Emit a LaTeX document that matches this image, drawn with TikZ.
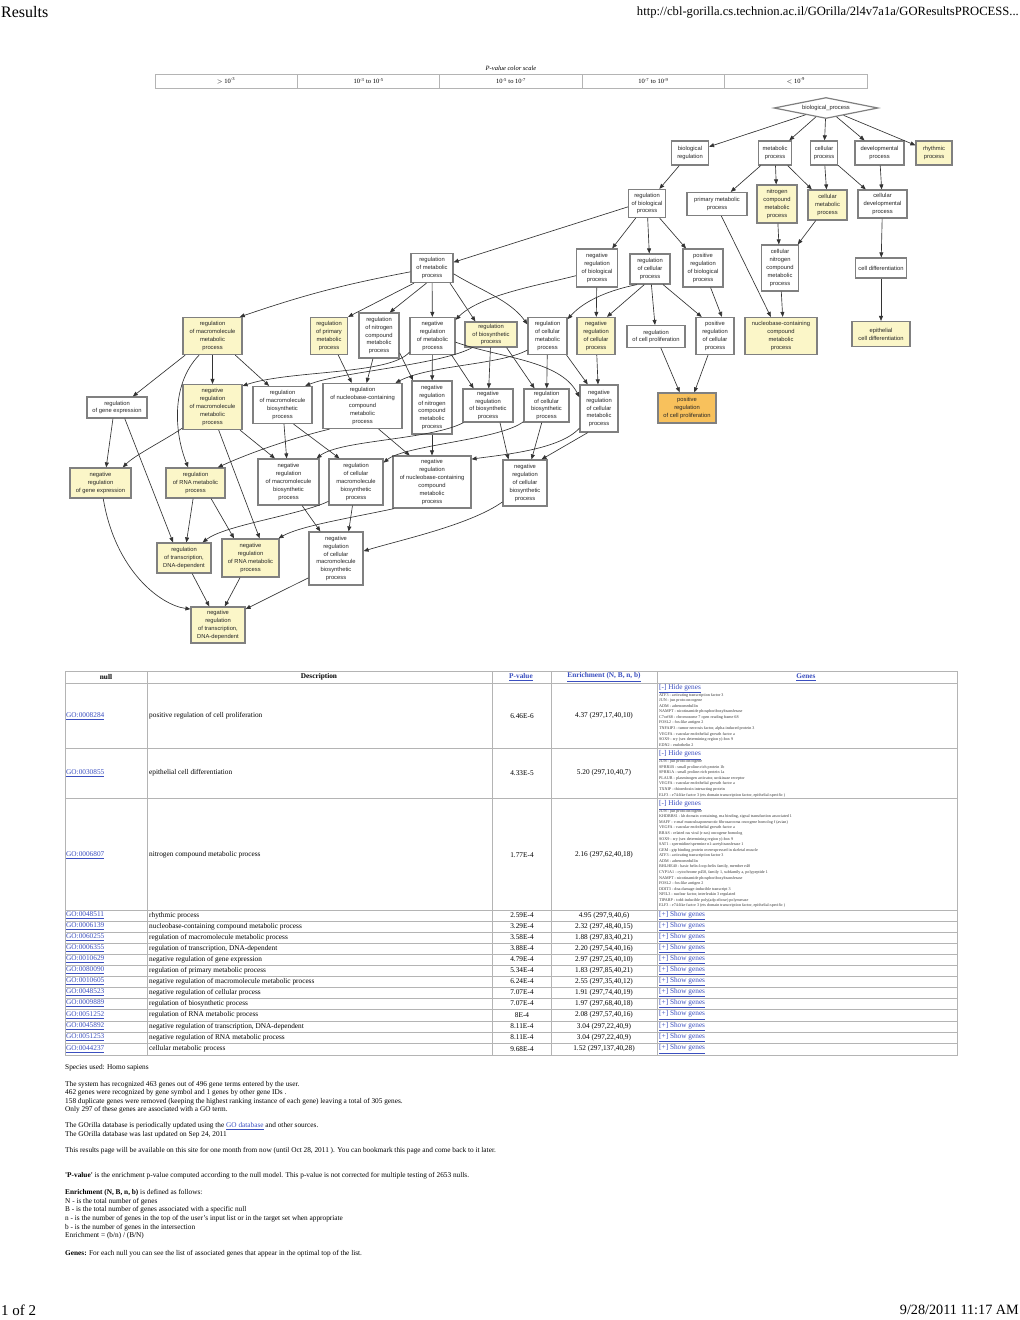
\documentclass[tikz,border=0pt]{standalone}
\usepackage{fontspec}
\setmainfont{Liberation Serif}
\newfontfamily\gosans{Liberation Sans}
\usetikzlibrary{shapes.geometric,arrows.meta}
\definecolor{ybox}{HTML}{FBF6C8}
\definecolor{obox}{HTML}{F8C15C}
\definecolor{lnk}{HTML}{3B4FC0}
\definecolor{bord}{HTML}{808080}
\definecolor{tline}{HTML}{B4B4B4}
\newcommand\lk[1]{\textcolor{lnk}{\underline{#1}}}
\newcommand\sgtxt{\fontsize{4.1}{5.58}\selectfont}
\newcommand\gorow[6]{%
 \node[tcell,anchor=west] (#1id) at (66,#2) {\lk{#3}};
 \node[tcell,anchor=west] (#1d) at (149,#2) {#4};
 \node[tcell] (#1p) at (522,#2) {#5};
 \node[tcell] (#1e) at (604,#2) {#6};
}
\begin{document}
\begin{tikzpicture}[x=1pt,y=-1pt,
 gobox/.style={draw=bord, line width=1.2pt, fill=white, font=\gosans\fontsize{5.8}{7.9}\selectfont, text=black!85, align=center, inner sep=0.5pt},
 sig/.style={gobox, fill=ybox},
 best/.style={gobox, fill=obox},
 wh/.style 2 args={minimum width=#1pt, minimum height=#2pt},
 edge/.style={draw=black!80, line width=0.65pt, -{Triangle[length=5pt,width=4pt]}},
 tcell/.style={font=\fontsize{7.3}{8.5}\selectfont, inner sep=0pt},
 hcell/.style={font=\bfseries\fontsize{7.3}{8.5}\selectfont, inner sep=0pt},
 glist/.style={font=\sgtxt, align=left, inner sep=0pt, anchor=north west, text=black!80},
 btxt/.style={font=\fontsize{7.3}{8.5}\selectfont, inner sep=0pt, anchor=base west},
 tl/.style={draw=tline, line width=0.8pt},
 sc/.style={font=\fontsize{6.5}{7.5}\selectfont, inner sep=0pt},
]
\useasboundingbox[fill=white] (0,0) rectangle (1020,1320);

% ---------- page header / footer ----------
\node[anchor=west, font=\fontsize{16}{18}\selectfont, inner sep=0pt] (title) at (1,12) {Results};
\node[anchor=east, font=\fontsize{12.6}{15}\selectfont, inner sep=0pt] (url) at (1019,12) {http://cbl-gorilla.cs.technion.ac.il/GOrilla/2l4v7a1a/GOResultsPROCESS...};
\node[anchor=west, font=\fontsize{15}{17}\selectfont, inner sep=0pt] (pg) at (1,1310) {1 of 2};
\node[anchor=east, font=\fontsize{14.2}{17}\selectfont, inner sep=0pt] (date) at (1019,1310) {9/28/2011 11:17 AM};

% ---------- p-value color scale ----------
\node[sc, font=\itshape\fontsize{6.5}{7.5}\selectfont] (sct) at (511,68) {P-value color scale};
\draw[tl] (155,74) rectangle (867,88);
\foreach \xx in {297.4,439.8,582.2,724.6} \draw[tl] (\xx,74) -- (\xx,88);
\node[sc] (s1) at (226,81) {$>$ 10\textsuperscript{-3}};
\node[sc] (s2) at (368.6,81) {10\textsuperscript{-3} to 10\textsuperscript{-5}};
\node[sc] (s3) at (511,81) {10\textsuperscript{-5} to 10\textsuperscript{-7}};
\node[sc] (s4) at (653.4,81) {10\textsuperscript{-7} to 10\textsuperscript{-9}};
\node[sc] (s5) at (795.8,81) {$<$ 10\textsuperscript{-9}};

% ---------- GO graph ----------
\node[gobox, diamond, aspect=4.8, inner sep=0pt, minimum width=104pt, minimum height=21pt] (bp) at (826,108) {biological\_process};

\node[gobox, wh={37}{24}] (bioreg) at (690,153) {biological\\regulation};
\node[gobox, wh={33}{24}] (metproc) at (775,153) {metabolic\\process};
\node[gobox, wh={27}{24}] (cellproc) at (824,153) {cellular\\process};
\node[gobox, wh={49}{24}] (devproc) at (879.5,153) {developmental\\process};
\node[sig, wh={36}{24}] (rhythm) at (934,153) {rhythmic\\process};

\node[gobox, wh={37}{28}] (regbio) at (647,203.5) {regulation\\of biological\\process};
\node[gobox, wh={60}{23}] (primary) at (717,204) {primary metabolic\\process};
\node[sig, wh={40}{38}] (nitro) at (777,204) {nitrogen\\compound\\metabolic\\process};
\node[sig, wh={39}{30}] (cellmet) at (827.5,205) {cellular\\metabolic\\process};
\node[gobox, wh={49}{28}] (celldev) at (882.5,204) {cellular\\developmental\\process};

\node[gobox, wh={42}{29}] (regmet) at (432,268) {regulation\\of metabolic\\process};
\node[gobox, wh={41}{38}] (negregbio) at (597,268) {negative\\regulation\\of biological\\process};
\node[gobox, wh={40}{30}] (regcell) at (650,269) {regulation\\of cellular\\process};
\node[gobox, wh={40}{38}] (posregbio) at (703,268) {positive\\regulation\\of biological\\process};
\node[gobox, wh={37}{46}] (cellnitro) at (780,268) {cellular\\nitrogen\\compound\\metabolic\\process};
\node[gobox, wh={51}{20}] (celldiff) at (881,268) {cell differentiation};

\node[sig, wh={59}{37}] (regmacro) at (212.5,336) {regulation\\of macromolecule\\metabolic\\process};
\node[sig, wh={37}{37}] (regprim) at (329,336) {regulation\\of primary\\metabolic\\process};
\node[gobox, wh={40}{45}] (regnitro) at (379,335.5) {regulation\\of nitrogen\\compound\\metabolic\\process};
\node[gobox, wh={45}{37}] (negregmet) at (432.5,336) {negative\\regulation\\of metabolic\\process};
\node[sig, wh={52}{25}] (regbiosyn) at (491,334.5) {regulation\\of biosynthetic\\process};
\node[gobox, wh={39}{37}] (regcellmet) at (547.5,336) {regulation\\of cellular\\metabolic\\process};
\node[sig, wh={38}{37}] (negregcell) at (596,336) {negative\\regulation\\of cellular\\process};
\node[gobox, wh={58}{22}] (regprolif) at (656,336.5) {regulation\\of cell proliferation};
\node[gobox, wh={38}{37}] (posregcell) at (715,336) {positive\\regulation\\of cellular\\process};
\node[sig, wh={72}{37}] (nucleo) at (781,336) {nucleobase-containing\\compound\\metabolic\\process};
\node[sig, wh={58}{25}] (epith) at (881,334) {epithelial\\cell differentiation};

\node[gobox, wh={60}{21}] (regge) at (117,407.5) {regulation\\of gene expression};
\node[sig, wh={59}{45}] (negregmacro) at (212.5,407) {negative\\regulation\\of macromolecule\\metabolic\\process};
\node[gobox, wh={59}{37}] (regmacrobio) at (282.5,405) {regulation\\of macromolecule\\biosynthetic\\process};
\node[gobox, wh={79}{45}] (regnucleo) at (362.5,406) {regulation\\of nucleobase-containing\\compound\\metabolic\\process};
\node[gobox, wh={40}{53}] (negregnitro) at (432,407.5) {negative\\regulation\\of nitrogen\\compound\\metabolic\\process};
\node[gobox, wh={50}{33}] (negregbiosyn) at (488,405.5) {negative\\regulation\\of biosynthetic\\process};
\node[gobox, wh={45}{33}] (regcellbio) at (546.5,405.5) {regulation\\of cellular\\biosynthetic\\process};
\node[gobox, wh={38}{47}] (negregcellmet) at (599,408.5) {negative\\regulation\\of cellular\\metabolic\\process};
\node[best, wh={58}{30}] (posregprolif) at (687,408) {positive\\regulation\\of cell proliferation};

\node[sig, wh={61}{30}] (neggeneexp) at (100.5,483) {negative\\regulation\\of gene expression};
\node[sig, wh={59}{30}] (regrna) at (195.5,483) {regulation\\of RNA metabolic\\process};
\node[gobox, wh={61}{46}] (negregmacrobio) at (288.5,482) {negative\\regulation\\of macromolecule\\biosynthetic\\process};
\node[gobox, wh={54}{46}] (regcellmacrobio) at (356,482) {regulation\\of cellular\\macromolecule\\biosynthetic\\process};
\node[gobox, wh={78}{52}] (negregnucleo) at (432,482) {negative\\regulation\\of nucleobase-containing\\compound\\metabolic\\process};
\node[gobox, wh={44}{46}] (negregcellbio) at (525,483) {negative\\regulation\\of cellular\\biosynthetic\\process};

\node[sig, wh={54}{30}] (regtrans) at (184,558) {regulation\\of transcription,\\DNA-dependent};
\node[sig, wh={57}{38}] (negregrna) at (250.5,558) {negative\\regulation\\of RNA metabolic\\process};
\node[gobox, wh={54}{53}] (negregcellmacrobio) at (336,558.5) {negative\\regulation\\of cellular\\macromolecule\\biosynthetic\\process};

\node[sig, wh={54}{36}] (negregtrans) at (218,625) {negative\\regulation\\of transcription,\\DNA-dependent};

% edges
\draw[edge] (bp) -- (bioreg);
\draw[edge] (bp) -- (metproc);
\draw[edge] (bp) -- (cellproc);
\draw[edge] (bp) -- (devproc);
\draw[edge] (bp) -- (rhythm);
\draw[edge] (bioreg) -- (regbio);
\draw[edge] (metproc) -- (primary);
\draw[edge] (metproc) -- (nitro);
\draw[edge] (metproc) -- (cellmet);
\draw[edge] (cellproc) -- (cellmet);
\draw[edge] (cellproc) -- (celldev);
\draw[edge] (devproc) -- (celldev);
\draw[edge] (regbio.190) -- (regmet.15);
\draw[edge] (regbio) -- (negregbio);
\draw[edge] (regbio) -- (regcell);
\draw[edge] (regbio) -- (posregbio);
\draw[edge] (nitro) -- (cellnitro);
\draw[edge] (cellmet) -- (cellnitro);
\draw[edge] (celldev) -- (celldiff);
\draw[edge] (primary.-70) -- (nucleo.118);
\draw[edge] (cellnitro) -- (nucleo.85);
\draw[edge] (celldiff) -- (epith);

\draw[edge] (regmet.190) to[bend right=4] (regmacro.35);
\draw[edge] (regmet.220) -- (regprim.north east);
\draw[edge] (regmet.250) -- (regnitro.65);
\draw[edge] (regmet) -- (negregmet);
\draw[edge] (regmet.-40) -- (regbiosyn.140);
\draw[edge] (regmet.-15) .. controls (480,290) and (510,300) .. (regcellmet.150);
\draw[edge] (negregbio.200) .. controls (540,285) and (480,295) .. (negregmet.35);
\draw[edge] (negregbio) -- (negregcell);
\draw[edge] (regcell.230) .. controls (610,290) and (585,300) .. (regcellmet.40);
\draw[edge] (regcell.250) -- (negregcell.60);
\draw[edge] (regcell) -- (regprolif);
\draw[edge] (regcell.-50) -- (posregcell.125);
\draw[edge] (posregbio) -- (posregcell.70);

\draw[edge] (regmacro.215) -- (regge.35);
\draw[edge] (regmacro) -- (negregmacro);
\draw[edge] (regmacro.-40) -- (regmacrobio.125);
\draw[edge] (regmacro.235) .. controls (170,385) and (175,435) .. (regrna.115);
\draw[edge] (negregmet.215) .. controls (390,375) and (290,370) .. (negregmacro.35);
\draw[edge] (regbiosyn.215) .. controls (440,365) and (340,372) .. (regmacrobio.40);
\draw[edge] (negregmet) -- (negregnitro);
\draw[edge] (negregmet.-45) -- (negregbiosyn.130);
\draw[edge] (negregmet.-15) .. controls (500,358) and (560,360) .. (negregcellmet.150);
\draw[edge] (regbiosyn) -- (negregbiosyn);
\draw[edge] (regbiosyn.-40) -- (regcellbio.125);
\draw[edge] (regprim) -- (regnucleo.115);
\draw[edge] (regnitro) -- (regnucleo.80);
\draw[edge] (regcellmet.215) .. controls (500,365) and (430,365) .. (regnucleo.35);
\draw[edge] (regnitro.-40) -- (negregnitro.125);
\draw[edge] (regcellmet) -- (regcellbio);
\draw[edge] (regcellmet.-45) -- (negregcellmet.115);
\draw[edge] (negregcell) -- (negregcellmet);
\draw[edge] (regprolif) -- (posregprolif.115);
\draw[edge] (posregcell) -- (posregprolif.65);

\draw[edge] (regge.-110) -- (neggeneexp.70);
\draw[edge] (regge.-55) -- (regtrans.125);
\draw[edge] (negregmacro.215) .. controls (165,440) and (135,455) .. (neggeneexp.35);
\draw[edge] (negregmacro.-40) -- (negregmacrobio.120);
\draw[edge] (negregmacro.-75) -- (negregrna.65);
\draw[edge] (regmacrobio) -- (negregmacrobio);
\draw[edge] (regmacrobio.-60) -- (regcellmacrobio.125);
\draw[edge] (regnucleo.215) .. controls (285,440) and (245,455) .. (regrna.35);
\draw[edge] (regnucleo.-55) -- (negregnucleo.130);
\draw[edge] (negregnitro) -- (negregnucleo);
\draw[edge] (negregbiosyn.215) .. controls (430,440) and (340,440) .. (negregmacrobio.40);
\draw[edge] (negregbiosyn.-55) -- (negregcellbio.125);
\draw[edge] (regcellbio.215) .. controls (500,440) and (405,445) .. (regcellmacrobio.35);
\draw[edge] (regcellbio) -- (negregcellbio);
\draw[edge] (negregcellmet.225) .. controls (560,450) and (500,455) .. (negregnucleo.30);
\draw[edge] (negregcellmet.245) -- (negregcellbio.55);

\draw[edge] (neggeneexp.-80) .. controls (115,570) and (160,605) .. (negregtrans.150);
\draw[edge] (regrna) -- (regtrans);
\draw[edge] (regrna.-45) -- (negregrna.130);
\draw[edge] (regcellmacrobio.215) .. controls (300,515) and (225,525) .. (regtrans.40);
\draw[edge] (regcellmacrobio) -- (negregcellmacrobio.65);
\draw[edge] (negregmacrobio.-60) -- (negregcellmacrobio.120);
\draw[edge] (negregnucleo.215) .. controls (350,518) and (300,526) .. (negregrna.35);
\draw[edge] (negregcellbio.220) .. controls (470,525) and (400,540) .. (negregcellmacrobio.15);
\draw[edge] (regtrans) -- (negregtrans.115);
\draw[edge] (negregrna) -- (negregtrans.70);
\draw[edge] (negregcellmacrobio.215) -- (negregtrans.30);

% ---------- results table ----------
\draw[tl] (65,671) rectangle (957,1055);
\foreach \yy in {683,748,798,910,921,932,943,954,965,976,987,998,1009,1021,1032,1043}
  \draw[tl] (65,\yy) -- (957,\yy);
\foreach \xx in {147,492,551,657}
  \draw[tl] (\xx,671) -- (\xx,1055);

\node[hcell] (hnull) at (106,677) {null};
\node[hcell] (hdesc) at (319,677) {Description};
\node[hcell] (hpv) at (521,677) {\lk{P-value}};
\node[hcell] (henr) at (604,677) {\lk{Enrichment (N, B, n, b)}};
\node[hcell] (hgen) at (806,677) {\lk{Genes}};

\gorow{a}{716}{GO:0008284}{positive regulation of cell proliferation}{6.46E-6}{4.37 (297,17,40,10)}
\gorow{b}{773}{GO:0030855}{epithelial cell differentiation}{4.33E-5}{5.20 (297,10,40,7)}
\gorow{c}{855}{GO:0006807}{nitrogen compound metabolic process}{1.77E-4}{2.16 (297,62,40,18)}

\node[tcell, anchor=west] (ahide) at (659,688.3) {\lk{[-] Hide genes}};
\node[glist] (agenes) at (659,693) {ATF3 - activating transcription factor 3\\JUN - jun proto-oncogene\\ADM - adrenomedullin\\NAMPT - nicotinamide phosphoribosyltransferase\\C7orf68 - chromosome 7 open reading frame 68\\FOSL2 - fos-like antigen 2\\TNFAIP3 - tumor necrosis factor, alpha-induced protein 3\\VEGFA - vascular endothelial growth factor a\\SOX9 - sry (sex determining region y)-box 9\\EDN2 - endothelin 2};
\node[tcell, anchor=west] (bhide) at (659,755) {\lk{[-] Hide genes}};
\node[glist] (bgenes) at (659,759.7) {JUN - jun proto-oncogene\\SPRR1B - small proline-rich protein 1b\\SPRR1A - small proline-rich protein 1a\\PLAUR - plasminogen activator, urokinase receptor\\VEGFA - vascular endothelial growth factor a\\TXNIP - thioredoxin interacting protein\\ELF3 - e74-like factor 3 (ets domain transcription factor, epithelial-specific )};
\node[tcell, anchor=west] (chide) at (659,805) {\lk{[-] Hide genes}};
\node[glist] (cgenes) at (659,809.2) {JUN - jun proto-oncogene\\KHDRBS1 - kh domain containing, rna binding, signal transduction associated 1\\MAFF - v-maf musculoaponeurotic fibrosarcoma oncogene homolog f (avian)\\VEGFA - vascular endothelial growth factor a\\RRAS - related ras viral (r-ras) oncogene homolog\\SOX9 - sry (sex determining region y)-box 9\\SAT1 - spermidine/spermine n1-acetyltransferase 1\\GEM - gtp binding protein overexpressed in skeletal muscle\\ATF3 - activating transcription factor 3\\ADM - adrenomedullin\\BHLHE40 - basic helix-loop-helix family, member e40\\CYP1A1 - cytochrome p450, family 1, subfamily a, polypeptide 1\\NAMPT - nicotinamide phosphoribosyltransferase\\FOSL2 - fos-like antigen 2\\DDIT3 - dna-damage-inducible transcript 3\\NFIL3 - nuclear factor, interleukin 3 regulated\\TIPARP - tcdd-inducible poly(adp-ribose) polymerase\\ELF3 - e74-like factor 3 (ets domain transcription factor, epithelial-specific )};

\gorow{d}{915.5}{GO:0048511}{rhythmic process}{2.59E-4}{4.95 (297,9,40,6)}
\gorow{e}{926.5}{GO:0006139}{nucleobase-containing compound metabolic process}{3.29E-4}{2.32 (297,48,40,15)}
\gorow{f}{937.5}{GO:0060255}{regulation of macromolecule metabolic process}{3.58E-4}{1.88 (297,83,40,21)}
\gorow{g}{948.5}{GO:0006355}{regulation of transcription, DNA-dependent}{3.88E-4}{2.20 (297,54,40,16)}
\gorow{h}{959.5}{GO:0010629}{negative regulation of gene expression}{4.79E-4}{2.97 (297,25,40,10)}
\gorow{i}{970.5}{GO:0080090}{regulation of primary metabolic process}{5.34E-4}{1.83 (297,85,40,21)}
\gorow{j}{981.5}{GO:0010605}{negative regulation of macromolecule metabolic process}{6.24E-4}{2.55 (297,35,40,12)}
\gorow{k}{992.5}{GO:0048523}{negative regulation of cellular process}{7.07E-4}{1.91 (297,74,40,19)}
\gorow{l}{1003.5}{GO:0009889}{regulation of biosynthetic process}{7.07E-4}{1.97 (297,68,40,18)}
\gorow{m}{1015}{GO:0051252}{regulation of RNA metabolic process}{8E-4}{2.08 (297,57,40,16)}
\gorow{n}{1026.5}{GO:0045892}{negative regulation of transcription, DNA-dependent}{8.11E-4}{3.04 (297,22,40,9)}
\gorow{o}{1037.5}{GO:0051253}{negative regulation of RNA metabolic process}{8.11E-4}{3.04 (297,22,40,9)}
\gorow{p}{1049}{GO:0044237}{cellular metabolic process}{9.68E-4}{1.52 (297,137,40,28)}
\foreach \yy [count=\i] in {915.5,926.5,937.5,948.5,959.5,970.5,981.5,992.5,1003.5,1015,1026.5,1037.5,1049}
  \node[tcell, anchor=west] (show\i) at (659,\yy) {\lk{[+] Show genes}};

% ---------- text below ----------
\node[btxt] (t1) at (65,1069) {Species used: Homo sapiens};
\node[btxt] (t2) at (65,1086.3) {The system has recognized 463 genes out of 496 gene terms entered by the user.};
\node[btxt] (t3) at (65,1094.6) {462 genes were recognized by gene symbol and 1 genes by other gene IDs .};
\node[btxt] (t4) at (65,1103) {158 duplicate genes were removed (keeping the highest ranking instance of each gene) leaving a total of 305 genes.};
\node[btxt] (t5) at (65,1111.6) {Only 297 of these genes are associated with a GO term.};
\node[btxt] (t6) at (65,1127.3) {The GOrilla database is periodically updated using the \lk{GO database} and other sources.};
\node[btxt] (t7) at (65,1136.3) {The GOrilla database was last updated on Sep 24, 2011};
\node[btxt] (t8) at (65,1152.3) {This results page will be available on this site for one month from now (until Oct 28, 2011 ). You can bookmark this page and come back to it later.};
\node[btxt] (t9) at (65,1177.5) {\textbf{\textquotesingle P-value\textquotesingle} is the enrichment p-value computed according to the null model. This p-value is not corrected for multiple testing of 2653 nulls.};
\node[btxt] (t10) at (65,1194.3) {\textbf{Enrichment (N, B, n, b)} is defined as follows:};
\node[btxt] (t11) at (65,1203) {N - is the total number of genes};
\node[btxt] (t12) at (65,1211.6) {B - is the total number of genes associated with a specific null};
\node[btxt] (t13) at (65,1220.3) {n - is the number of genes in the top of the user's input list or in the target set when appropriate};
\node[btxt] (t14) at (65,1229) {b - is the number of genes in the intersection};
\node[btxt] (t15) at (65,1237.3) {Enrichment = (b/n) / (B/N)};
\node[btxt] (t16) at (65,1255) {\textbf{Genes:} For each null you can see the list of associated genes that appear in the optimal top of the list.};
\end{tikzpicture}
\end{document}
